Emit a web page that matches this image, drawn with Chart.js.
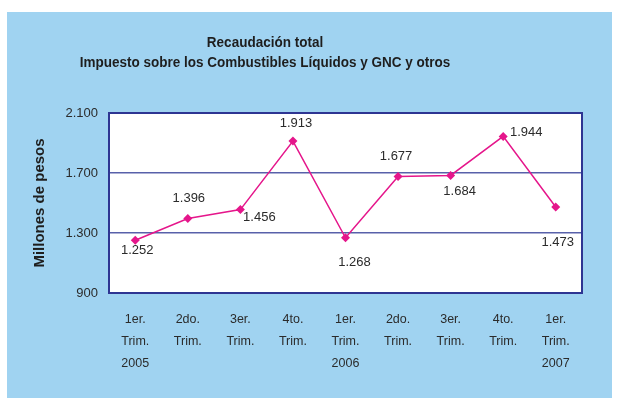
<!DOCTYPE html>
<html>
<head>
<meta charset="utf-8">
<script src="https://cdn.jsdelivr.net/npm/chart.js@4/dist/chart.umd.min.js"></script>
<style>
    html, body {
        margin: 0;
        padding: 0;
        background: #ffffff;
    }

    #frame {
        position: absolute;
        left: 7px;
        top: 12px;
        width: 605px;
        height: 386px;
        background: #a0d3f1;
    }
</style>
</head>
<body>
<div id="frame">
    <canvas id="recaudacionChart" width="605" height="386"></canvas>
</div>
<script>
const quarters = ["1er.", "2do.", "3er.", "4to.", "1er.", "2do.", "3er.", "4to.", "1er."];
const years = ["2005", "", "", "", "2006", "", "", "", "2007"];
const recaudacion = [1252, 1396, 1456, 1913, 1268, 1677, 1684, 1944, 1473];
const yTicks = [900, 1300, 1700, 2100];
const titleLines = [
    "Recaudación total",
    "Impuesto sobre los Combustibles Líquidos y GNC y otros"
];

const chartCanvas = document.getElementById("recaudacionChart");

if (!chartCanvas) {
    throw new Error("Chart canvas was not found.");
}

const categoryLabels = quarters.map((q, i) => [q, "Trim.", years[i]]);

const baseFont = "'Liberation Sans', Arial, sans-serif";

function formatMiles(value) {
    return String(value).replace(/\B(?=(\d{3})+(?!\d))/g, ".");
}

// where each value label sits relative to its point
const labelOffsets = [
    [2, 10], [1, -20], [19, 8], [3, -18], [9, 25],
    [-2, -20], [9, 16], [23, -4], [2, 35]
];

const plotFrame = {
    id: "plotFrame",
    beforeDraw(chart) {
        const { ctx, chartArea } = chart;
        ctx.save();
        ctx.fillStyle = "#ffffff";
        ctx.fillRect(chartArea.left, chartArea.top, chartArea.width, chartArea.height);
        ctx.restore();
    },
    beforeDatasetsDraw(chart) {
        const { ctx, chartArea } = chart;
        ctx.save();
        ctx.strokeStyle = "#2e3592";
        ctx.lineWidth = 2;
        ctx.strokeRect(chartArea.left, chartArea.top, chartArea.width, chartArea.height);
        ctx.restore();
    }
};

// the original title sits left of centre and is a bit condensed, so it is drawn here
const offsetTitle = {
    id: "offsetTitle",
    afterDraw(chart) {
        const { ctx } = chart;
        ctx.save();
        ctx.translate(258, 0);
        ctx.scale(0.9, 1);
        ctx.font = "bold 15px " + baseFont;
        ctx.fillStyle = "#1e1e1e";
        ctx.textAlign = "center";
        ctx.textBaseline = "middle";
        ctx.fillText(titleLines[0], 0, 31);
        ctx.fillText(titleLines[1], 0, 51);
        ctx.restore();
    }
};

const valueLabels = {
    id: "valueLabels",
    afterDatasetsDraw(chart) {
        const { ctx } = chart;
        const meta = chart.getDatasetMeta(0);
        ctx.save();
        ctx.font = "13px " + baseFont;
        ctx.fillStyle = "#2b2b2b";
        ctx.textAlign = "center";
        ctx.textBaseline = "middle";
        meta.data.forEach((point, i) => {
            const [dx, dy] = labelOffsets[i];
            ctx.fillText(formatMiles(recaudacion[i]), point.x + dx, point.y + dy);
        });
        ctx.restore();
    }
};

const recaudacionChart = new Chart(chartCanvas, {
    type: "line",

    data: {
        labels: categoryLabels,
        datasets: [
            {
                label: "Recaudación",
                data: recaudacion,
                borderColor: "#e5168b",
                backgroundColor: "#e5168b",
                borderWidth: 1.5,
                pointStyle: "rectRot",
                pointRadius: 4.5,
                pointBorderWidth: 0,
                tension: 0,
                fill: false
            }
        ]
    },

    options: {
        responsive: false,
        animation: false,

        layout: {
            padding: {
                left: 24,
                right: 30,
                top: 101,
                bottom: 0
            }
        },

        plugins: {
            legend: {
                display: false
            },

            tooltip: {
                enabled: false
            },

            title: {
                display: false
            }
        },

        scales: {
            x: {
                offset: true,

                grid: {
                    display: false
                },

                border: {
                    display: false
                },

                ticks: {
                    maxRotation: 0,
                    autoSkip: false,
                    padding: 8,
                    color: "#2b2b2b",
                    font: {
                        family: baseFont,
                        size: 12.5,
                        lineHeight: 1.75
                    }
                },

                afterFit(scale) {
                    scale.height = 105;
                }
            },

            y: {
                min: 900,
                max: 2100,

                afterBuildTicks(scale) {
                    scale.ticks = yTicks.map((value) => ({ value }));
                },

                grid: {
                    color: "#5861aa",
                    lineWidth: 1.5,
                    drawTicks: false
                },

                border: {
                    display: false
                },

                ticks: {
                    padding: 11,
                    color: "#2b2b2b",
                    font: {
                        family: baseFont,
                        size: 13
                    },
                    callback(value) {
                        return formatMiles(value);
                    }
                },

                title: {
                    display: true,
                    text: "Millones de pesos",
                    color: "#1e1e1e",
                    padding: 0,
                    font: {
                        family: baseFont,
                        size: 15,
                        weight: "bold",
                        lineHeight: 1.2
                    }
                },

                afterFit(scale) {
                    scale.width = 78;
                }
            }
        }
    },

    plugins: [plotFrame, valueLabels, offsetTitle]
});
</script>
</body>
</html>
